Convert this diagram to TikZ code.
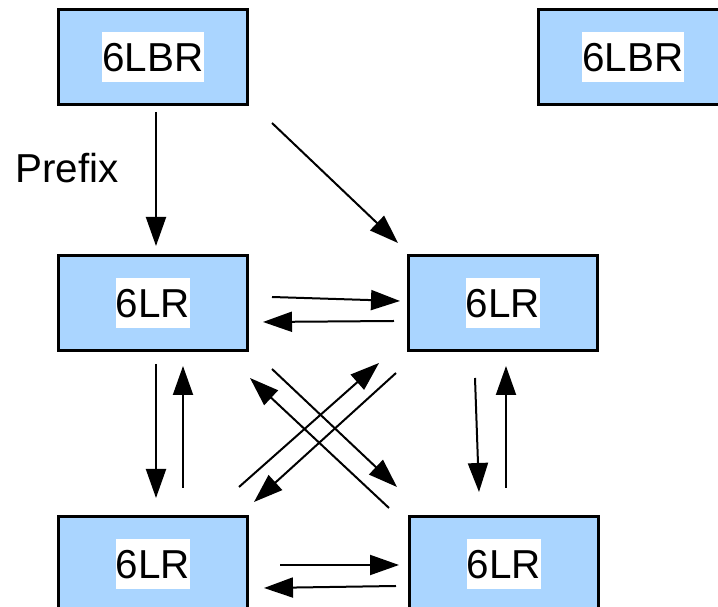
\documentclass[tikz,border=0pt]{standalone}
\usepackage{fontspec}
\setmainfont{Liberation Sans}
\usetikzlibrary{calc,arrows.meta}
\definecolor{routerblue}{RGB}{170,213,255}
% white strip behind the router names
\newcommand{\namebg}[1]{{\setlength{\fboxsep}{0pt}\colorbox{white}{\vrule height 22.7pt depth 6.2pt width 0pt #1}}}

\begin{document}
\begin{tikzpicture}[
  x=0.02cm, y=-0.02cm,
  box/.style={draw, fill=routerblue, line width=0.06cm, inner sep=0pt,
              minimum width=3.78cm, minimum height=1.9cm,
              font=\fontsize{23}{28}\selectfont},
  ar/.style={-{Triangle[length=0.58cm, width=0.4cm]}, line width=0.04cm},
  lbl/.style={font=\fontsize{23}{28}\selectfont, inner sep=0pt}
]
  \useasboundingbox (0,0) rectangle (718,607);
  \clip (0,0) rectangle (718,607);

  % border routers
  \node[box] (lbr1) at (153,57) {\namebg{6LBR}};
  \node[box] (lbr2) at (633,57) {\namebg{6LBR}};

  % routers
  \node[box] (lr1) at (153,303) {\namebg{6LR}};
  \node[box] (lr2) at (503,303) {\namebg{6LR}};
  \node[box] (lr3) at (153,564) {\namebg{6LR}};
  \node[box] (lr4) at (504,564) {\namebg{6LR}};

  \node[lbl, anchor=base west] (pfx) at (15,183) {Prefix};

  % prefix handed down from the border router
  \draw[ar] ($(lbr1)+(3,55)$) -- ($(lr1)+(3,-57)$);
  \draw[ar] ($(lbr1)+(119,66)$) -- ($(lr2)+(-105,-60)$);

  % horizontal pairs
  \draw[ar] ($(lr1)+(119,-6)$) -- ($(lr2)+(-103,-2)$);
  \draw[ar] ($(lr2)+(-109,18)$) -- ($(lr1)+(110,19)$);
  \draw[ar] ($(lr3)+(127,1)$) -- ($(lr4)+(-105,1)$);
  \draw[ar] ($(lr4)+(-108,22)$) -- ($(lr3)+(111,24)$);

  % vertical pairs
  \draw[ar] ($(lr1)+(3,61)$) -- ($(lr3)+(3,-66)$);
  \draw[ar] ($(lr3)+(30,-76)$) -- ($(lr1)+(30,63)$);
  \draw[ar] ($(lr2)+(-28,75)$) -- ($(lr4)+(-25,-72)$);
  \draw[ar] ($(lr4)+(2,-76)$) -- ($(lr2)+(3,63)$);

  % crossing diagonals
  \draw[ar] ($(lr3)+(86,-77)$) -- ($(lr2)+(-124,60)$);
  \draw[ar] ($(lr2)+(-107,70)$) -- ($(lr3)+(101,-62)$);
  \draw[ar] ($(lr1)+(119,66)$) -- ($(lr4)+(-107,-77)$);
  \draw[ar] ($(lr4)+(-115,-56)$) -- ($(lr1)+(97,75)$);

\end{tikzpicture}
\end{document}
